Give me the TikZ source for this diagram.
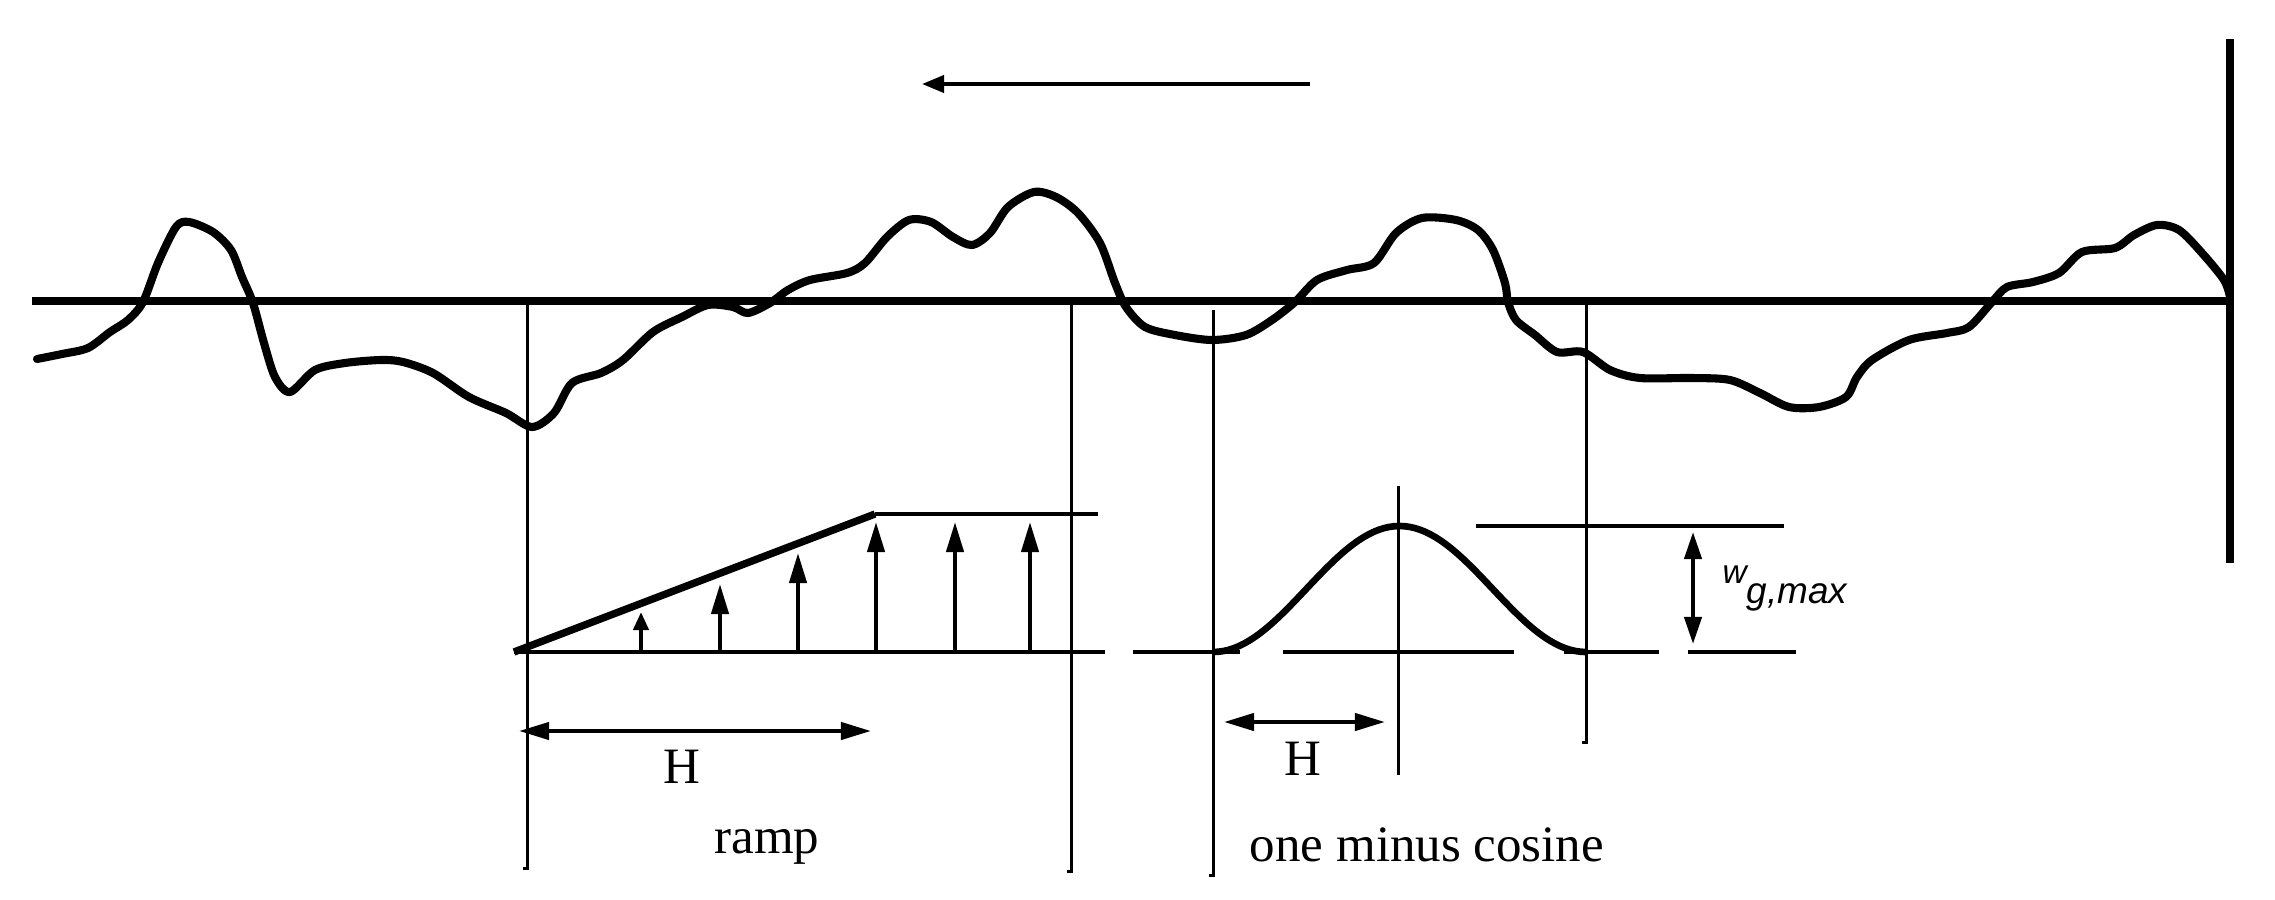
\documentclass[tikz,border=0pt]{standalone}
\usepackage{fontspec}
\setmainfont{Liberation Serif}
\newfontfamily\wfont{Liberation Sans}
\usetikzlibrary{arrows.meta}
\begin{document}
\begin{tikzpicture}[x=0.01cm,y=-0.01cm,
  thick axis/.style={line width=2pt},
  gust/.style={line width=2.3pt,line join=round,line cap=round},
  thinline/.style={line width=0.85pt},
  baseln/.style={line width=1.1pt},
  profile/.style={line width=1.9pt,line join=round},
  uparrow/.style={line width=1.2pt,-{Triangle[length=0.3cm,width=0.17cm]}},
  dimarrow/.style={line width=1.2pt,{Triangle[length=0.3cm,width=0.17cm]}-{Triangle[length=0.3cm,width=0.17cm]}},
  lbl/.style={inner sep=0pt,font=\fontsize{14.5}{17}\selectfont},
  wlbl/.style={inner sep=0pt,font=\wfont\itshape\fontsize{9.5}{11}\selectfont},
  sublbl/.style={inner sep=0pt,font=\wfont\itshape\fontsize{10.5}{12}\selectfont}]
\useasboundingbox (0,0) rectangle (2275,900);

% flight direction arrow
\coordinate (fa1) at (1310,84);
\coordinate (fa2) at (922,84);
\draw[line width=1.1pt,-{Triangle[length=0.22cm,width=0.17cm]}] (fa1) -- (fa2);

% main axis and wall
\coordinate (ax1) at (32,301);
\coordinate (ax2) at (2230,301);
\draw[thick axis] (ax1) -- (ax2);
\coordinate (w1) at (2230,39);
\coordinate (w2) at (2230,563);
\draw[line width=2.3pt] (w1) -- (w2);

% turbulent gust profile
\draw[gust] plot[smooth,tension=0.5] coordinates {
(37,359) (62,354) (88,348) (110,332) (128,320) (143,302) (158,263) (176,227) (189,222) (213,232) (231,250) (242,277) (253,303) (264,343) (275,377) (290,392) (315,370) (345,363) (381,360) (403,362) (433,373) (469,397) (506,413) (532,427) (554,413) (572,383) (601,373) (623,360) (653,332) (682,317) (708,305) (733,307) (748,313) (770,303) (788,290) (810,280) (847,273) (865,263) (887,237) (909,220) (931,222) (953,237) (972,245) (990,233) (1008,207) (1034,192) (1056,197) (1078,213) (1100,243) (1115,283) (1126,307) (1145,327) (1175,335) (1212,340) (1246,335) (1272,320) (1295,302) (1317,280) (1347,270) (1374,263) (1396,233) (1422,218) (1456,220) (1478,230) (1493,250) (1505,283) (1508,302) (1516,320) (1535,335) (1557,352) (1583,352) (1610,370) (1640,378) (1692,378) (1730,380) (1760,393) (1789,407) (1819,407) (1846,397) (1857,377) (1872,360) (1909,340) (1947,333) (1969,327) (1992,302) (2007,287) (2033,282) (2059,273) (2082,252) (2115,248) (2134,235) (2157,225) (2179,230) (2202,253) (2224,280) (2230,297)};

% vertical reference lines
\draw[thinline] (523,868) -- (527,868) -- (527,301);
\draw[thinline] (1067,871) -- (1071,871) -- (1071,301);
\draw[thinline] (1209,875) -- (1213,875) -- (1213,310);
\draw[thinline] (1582,742) -- (1586,742) -- (1586,301);
\draw[thinline] (1398,486) -- (1398,775);

% ---------- ramp ----------
\coordinate (r0) at (514,652);
\coordinate (rp) at (875,514);
\draw[baseln] (r0) -- (1105,652);
\draw[baseln] (rp) -- (1098,514);
\draw[line width=2.1pt] (r0) -- (rp);
\draw[line width=1.2pt,-{Triangle[length=0.18cm,width=0.15cm]}] (641,652) -- (641,612);
\foreach \xx/\yy in {720/584,798/553,876/522,955/522,1030/522}
  \draw[uparrow] (\xx,652) -- (\xx,\yy);
\coordinate (rh1) at (519,731);
\coordinate (rh2) at (871,731);
\draw[dimarrow] (rh1) -- (rh2);
\node[lbl,anchor=base] (rH) at (682,783) {H};
\node[lbl,anchor=base] (rl) at (767,853) {ramp};

% ---------- one minus cosine ----------
\draw[baseln] (1133,652) -- (1240,652);
\draw[baseln] (1283,652) -- (1514,652);
\draw[baseln] (1564,652) -- (1659,652);
\draw[baseln] (1688,652) -- (1796,652);
\draw[baseln] (1476,526) -- (1784,526);
\draw[profile] plot[domain=0:360,samples=73] ({1213+1.0361*\x},{652-63*(1-cos(\x))});
\coordinate (ch1) at (1224,722);
\coordinate (ch2) at (1385,722);
\draw[dimarrow] (ch1) -- (ch2);
\coordinate (cw1) at (1693,532);
\coordinate (cw2) at (1693,644);
\draw[line width=1.2pt,{Triangle[length=0.27cm,width=0.17cm]}-{Triangle[length=0.27cm,width=0.17cm]}] (cw1) -- (cw2);
\node[lbl,anchor=base] (cH) at (1303,775) {H};
\node[lbl,anchor=base] (cl) at (1427,861) {one minus cosine};
\node[wlbl,anchor=base west] (wl) at (1722,583) {w};
\node[sublbl,anchor=base west] (wsub) at (1746,603) {g,max};
\end{tikzpicture}
\end{document}
